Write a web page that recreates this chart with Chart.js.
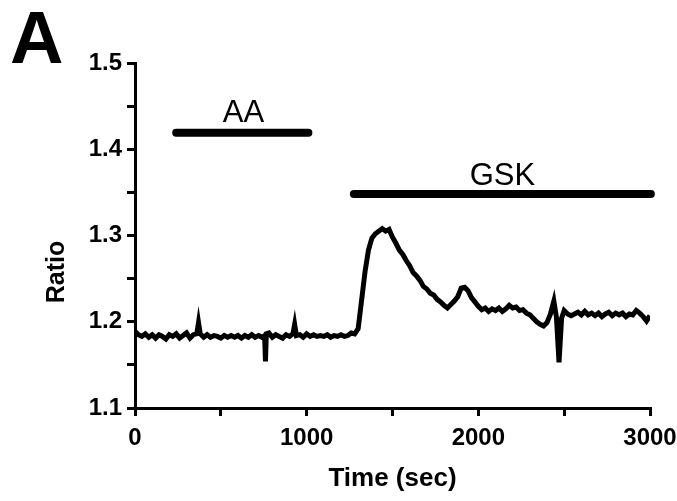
<!DOCTYPE html>
<html>
<head>
<meta charset="utf-8">
<script src="https://cdn.jsdelivr.net/npm/chart.js@4.4.0/dist/chart.umd.min.js"></script>
<style>
  body { margin: 0; background: #fff; }
  #wrap { width: 677px; height: 501px; }
</style>
</head>
<body>
<div id="wrap"><canvas id="ratioChart" width="677" height="501"></canvas></div>
<script>
// temps (s) et ratio
const times = [
  0, 20, 40, 60, 80, 100, 120, 140, 160, 180, 200, 220, 240, 260, 280, 300, 320, 340, 360, 370,
  380, 400, 420, 440, 460, 480, 500, 520, 540, 560, 580, 600, 620, 640, 660, 680, 700, 720, 740, 755,
  760, 765, 780, 800, 820, 840, 860, 880, 900, 920, 930, 940, 960, 980, 1000, 1020, 1040, 1060, 1080, 1100,
  1120, 1140, 1160, 1180, 1200, 1220, 1240, 1260, 1280, 1300, 1320, 1340, 1360, 1380, 1400, 1420, 1440, 1460, 1480, 1500,
  1520, 1540, 1560, 1580, 1600, 1620, 1640, 1660, 1680, 1700, 1720, 1740, 1760, 1780, 1800, 1820, 1840, 1860, 1880, 1900,
  1920, 1940, 1960, 1980, 2000, 2020, 2040, 2060, 2080, 2100, 2120, 2140, 2160, 2180, 2200, 2220, 2240, 2260, 2280, 2300,
  2320, 2340, 2360, 2380, 2400, 2420, 2440, 2455, 2470, 2485, 2500, 2520, 2540, 2560, 2580, 2600, 2620, 2640, 2660, 2680,
  2700, 2720, 2740, 2760, 2780, 2800, 2820, 2840, 2860, 2880, 2900, 2920, 2940, 2960, 2980, 3000
];
const ratios = [
  1.189, 1.185, 1.183, 1.186, 1.182, 1.185, 1.181, 1.185, 1.183, 1.180, 1.185, 1.183, 1.186, 1.181, 1.184, 1.187, 1.181, 1.185, 1.186, 1.199,
  1.186, 1.182, 1.185, 1.182, 1.184, 1.183, 1.181, 1.184, 1.182, 1.184, 1.182, 1.184, 1.181, 1.184, 1.182, 1.185, 1.182, 1.184, 1.182, 1.184,
  1.154, 1.186, 1.187, 1.182, 1.185, 1.183, 1.181, 1.185, 1.183, 1.186, 1.197, 1.184, 1.185, 1.182, 1.186, 1.183, 1.185, 1.183, 1.184, 1.183,
  1.185, 1.182, 1.184, 1.183, 1.185, 1.183, 1.184, 1.187, 1.186, 1.192, 1.225, 1.258, 1.283, 1.297, 1.302, 1.305, 1.308, 1.305, 1.307, 1.298,
  1.291, 1.283, 1.278, 1.271, 1.265, 1.257, 1.253, 1.248, 1.241, 1.238, 1.233, 1.231, 1.226, 1.223, 1.219, 1.216, 1.220, 1.224, 1.229, 1.239,
  1.240, 1.236, 1.228, 1.223, 1.218, 1.214, 1.216, 1.212, 1.215, 1.213, 1.216, 1.212, 1.215, 1.219, 1.216, 1.217, 1.213, 1.214, 1.210, 1.208,
  1.204, 1.200, 1.197, 1.195, 1.199, 1.209, 1.224, 1.205, 1.153, 1.204, 1.213, 1.209, 1.207, 1.209, 1.211, 1.208, 1.212, 1.208, 1.210, 1.207,
  1.210, 1.206, 1.209, 1.211, 1.207, 1.210, 1.208, 1.210, 1.206, 1.209, 1.208, 1.213, 1.210, 1.206, 1.201, 1.207
];

// barres de traitement (debut, fin, niveau)
const barNames = ['AA', 'GSK'];
const barStart = [240, 1275];
const barEnd = [1010, 3005];
const barLevel = [1.419, 1.348];
// position des etiquettes des barres
const labelTime = [632, 2140];
const labelLevel = [1.4316, 1.3586];

const FONT = "'Liberation Sans', Arial, Helvetica, sans-serif";

const traceData = times.map((t, i) => ({ x: t, y: ratios[i] }));

const datasets = [{
  data: traceData,
  borderColor: '#000',
  borderWidth: 5,
  pointRadius: 0,
  tension: 0
}];
barNames.forEach((name, i) => {
  datasets.push({
    data: [{ x: barStart[i], y: barLevel[i] }, { x: barEnd[i], y: barLevel[i] }],
    borderColor: '#000',
    borderWidth: 8,
    borderCapStyle: 'round',
    pointRadius: 0,
    clip: false
  });
});

// textes : lettre du panneau, titre Y, etiquettes des barres
const textPlugin = {
  id: 'textes',
  afterDraw(chart) {
    const ctx = chart.ctx;
    const xs = chart.scales.x, ys = chart.scales.y;
    ctx.save();
    ctx.fillStyle = '#000';
    ctx.font = 'bold 74px ' + FONT;
    ctx.textAlign = 'left';
    ctx.textBaseline = 'alphabetic';
    ctx.fillText('A', 10, 63);

    ctx.font = '31px ' + FONT;
    ctx.textAlign = 'center';
    barNames.forEach((name, i) => {
      ctx.fillText(name, xs.getPixelForValue(labelTime[i]), ys.getPixelForValue(labelLevel[i]));
    });

    ctx.translate(57, 272);
    ctx.rotate(-Math.PI / 2);
    ctx.font = 'bold 25px ' + FONT;
    ctx.textBaseline = 'middle';
    ctx.fillText('Ratio', 0, 0);
    ctx.restore();
  }
};

const config = {
  type: 'line',
  data: { datasets: datasets },
  options: {
    responsive: false,
    animation: false,
    layout: { padding: { top: 63, right: 27, left: 0, bottom: 0 } },
    plugins: { legend: { display: false }, tooltip: { enabled: false } },
    scales: {
      x: {
        type: 'linear',
        min: 0,
        max: 3000,
        afterFit(scale) {
          scale.height = 93;
          scale.paddingLeft = 0;
          scale.paddingRight = 20;
        },
        border: { color: '#000', width: 3 },
        grid: { drawOnChartArea: false, color: '#000', lineWidth: 3, tickLength: 8 },
        ticks: {
          stepSize: 500,
          color: '#000',
          padding: 8,
          maxRotation: 0,
          font: { family: FONT, size: 24, weight: 'bold' },
          callback: (v) => (v % 1000 === 0 ? v : '')
        },
        title: {
          display: true,
          text: 'Time (sec)',
          color: '#000',
          padding: { top: 0, bottom: 7 },
          font: { family: FONT, size: 26, weight: 'bold' }
        }
      },
      y: {
        min: 1.1,
        max: 1.5,
        afterFit(scale) { scale.width = 135; },
        border: { color: '#000', width: 3 },
        grid: { drawOnChartArea: false, color: '#000', lineWidth: 3, tickLength: 8 },
        ticks: {
          stepSize: 0.05,
          color: '#000',
          padding: 5,
          font: { family: FONT, size: 24, weight: 'bold' },
          callback: (v) => (Math.round(v * 100) % 10 === 0 ? v.toFixed(1) : '')
        }
      }
    }
  },
  plugins: [textPlugin]
};

const ctx = document.getElementById('ratioChart').getContext('2d');
const ratioChart = new Chart(ctx, config);
</script>
</body>
</html>
